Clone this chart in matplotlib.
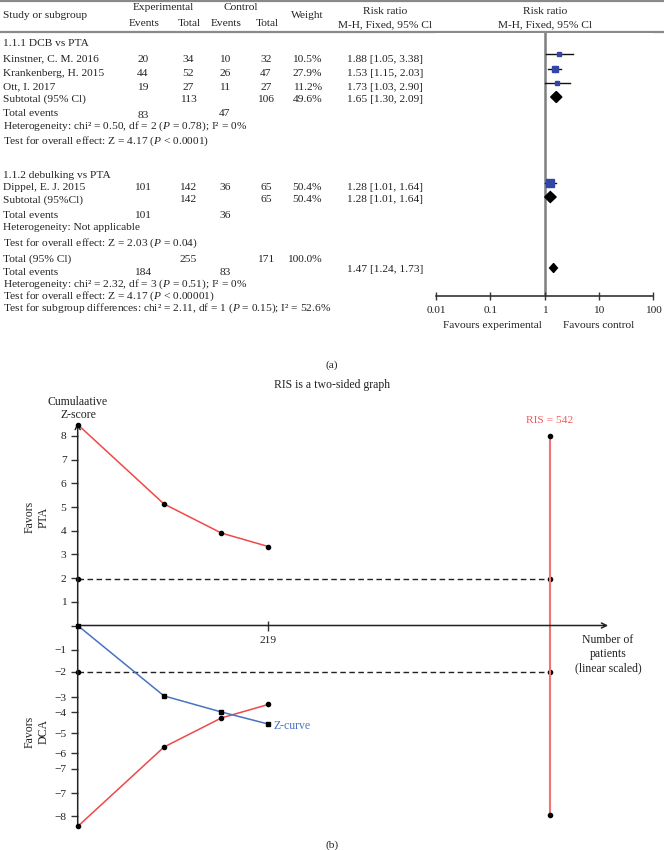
import numpy as np
import matplotlib.pyplot as plt
from matplotlib.patches import Polygon

plt.rcParams['font.family'] = ['Liberation Serif', 'DejaVu Serif']
plt.rcParams['font.size'] = 8.2
plt.rcParams['mathtext.fontset'] = 'custom'
plt.rcParams['mathtext.rm'] = 'Liberation Serif'
plt.rcParams['mathtext.it'] = 'Liberation Serif:italic'

TXT = '#222222'

# ---------------- (a) forest plot data ----------------
studies = ['Kinstner, C. M. 2016', 'Krankenberg, H. 2015', 'Ott, I. 2017', 'Dippel, E. J. 2015']
exp_events = [20, 44, 19, 101]
exp_total = [34, 52, 27, 142]
ctl_events = [10, 26, 11, 36]
ctl_total = [32, 47, 27, 65]
weights = [10.5, 27.9, 11.2, 50.4]
rr = [1.88, 1.53, 1.73, 1.28]
rr_lo = [1.05, 1.15, 1.03, 1.01]
rr_hi = [3.38, 2.03, 2.90, 1.64]

groups = ['1.1.1 DCB vs PTA', '1.1.2 debulking vs PTA']
group_studies = [[0, 1, 2], [3]]
sub_labels = ['Subtotal (95% Cl)', 'Subtotal (95%Cl)']
sub_exp_total = [113, 142]
sub_ctl_total = [106, 65]
sub_weight = [49.6, 50.4]
sub_exp_events = [83, 101]
sub_ctl_events = [47, 36]
sub_rr = [1.65, 1.28]
sub_lo = [1.30, 1.01]
sub_hi = [2.09, 1.64]
sub_het = ['Heterogeneity: chi\u00b2 = 0.50, df = 2 ($P$ = 0.78); I\u00b2 = 0%',
           'Heterogeneity: Not applicable']
sub_test = ['Test for overall effect: Z = 4.17 ($P$ < 0.0001)',
            'Test for overall effect: Z = 2.03 ($P$ = 0.04)']

tot_exp_total, tot_ctl_total, tot_weight = 255, 171, 100.0
tot_exp_events, tot_ctl_events = 184, 83
tot_rr, tot_lo, tot_hi = 1.47, 1.24, 1.73
tot_notes = ['Heterogeneity: chi\u00b2 = 2.32, df = 3 ($P$ = 0.51); I\u00b2 = 0%',
             'Test for overall effect: Z = 4.17 ($P$ < 0.00001)',
             'Test for subgroup differences: chi\u00b2 = 2.11, df = 1 ($P$ = 0.15); I\u00b2 = 52.6%']

# ---------------- (b) trial sequential analysis data ----------------
patients = [0, 99, 165, 219]
z_curve = [0, -2.97, -3.65, -4.16]
upper_bound = [8.48, 5.13, 3.90, 3.33]
lower_bound = [-8.48, -5.13, -3.90, -3.33]
ris = 542
z_crit = 1.96
ris_span = 8
ytick_pos = [8, 7, 6, 5, 4, 3, 2, 1, 0, -1.03, -1.96, -3.02, -3.65, -4.54, -5.38, -6.05, -7.07, -8.04]
ytick_lab = ['8', '7', '6', '5', '4', '3', '2', '1', '', '\u22121', '\u22122', '\u22123', '\u22124',
             '\u22125', '\u22126', '\u22127', '\u22127', '\u22128']

W, H = 664, 850
fig = plt.figure(figsize=(W / 100, H / 100), dpi=100)


def ftext(px, py, s, **kw):
    kw.setdefault('color', TXT)
    fig.text(px / W, 1 - py / H, s, **kw)


# ---- table axes (pixel coordinates) ----
ax_t = fig.add_axes([0, 1 - 350 / H, 1, 350 / H])
ax_t.set_xlim(0, W)
ax_t.set_ylim(350, 0)
ax_t.axis('off')
ax_t.hlines([1, 32], 0, W, color='#8a8a8a', lw=1.6)

cx = [143, 188, 225, 266]   # event/total columns
wx = 322                    # weight right edge
cix = 385                   # CI text column


def t(x, y, s, ha='left', **kw):
    ax_t.text(x, y, s, ha=ha, va='center', color=TXT, **kw)


t(3, 16, 'Study or subgroup')
t(163, 8, 'Experimental', ha='center')
t(241, 8, 'Control', ha='center')
t(144, 23, 'Events', ha='center')
t(189, 23, 'Total', ha='center')
t(226, 23, 'Events', ha='center')
t(267, 23, 'Total', ha='center')
t(307, 16, 'Weight', ha='center')
for xc in [385, 545]:
    t(xc, 12, 'Risk ratio', ha='center')
    t(xc, 25, 'M-H, Fixed, 95% Cl', ha='center')

# forest axes, log scale, y in pixel rows
ax_f = fig.add_axes([436 / W, 1 - 296 / H, 217 / W, (296 - 33) / H])
ax_f.set_xscale('log')
ax_f.set_xlim(0.01, 100)
ax_f.set_ylim(296, 33)
for s in ['top', 'left', 'right']:
    ax_f.spines[s].set_visible(False)
ax_f.spines['bottom'].set_color('#333333')
ax_f.spines['bottom'].set_linewidth(1.2)
ax_f.axvline(1, color='#7f7f7f', lw=1.8, zorder=1)
ax_f.set_yticks([])
ax_f.set_xticks([0.01, 0.1, 1, 10, 100])
ax_f.set_xticklabels(['0.01', '0.1', '1', '10', '100'])
ax_f.minorticks_off()
ax_f.tick_params(axis='x', direction='inout', length=6, width=1, pad=4, colors='#333333', labelcolor=TXT)

text_rows = [[59, 73, 87], [188]]
mark_rows = [[54, 69, 83], [183]]
group_y = [43, 175]
sub_y = [(99, 97, 100), (200, 197, 199)]

for g, name in enumerate(groups):
    t(3, group_y[g], name)
    for k, i in enumerate(group_studies[g]):
        ty = text_rows[g][k]
        my = mark_rows[g][k]
        t(3, ty, studies[i])
        for x, v in zip(cx, [exp_events[i], exp_total[i], ctl_events[i], ctl_total[i]]):
            t(x, ty, str(v), ha='center')
        t(wx, ty, f'{weights[i]:.1f}%', ha='right')
        t(cix, ty, f'{rr[i]:.2f} [{rr_lo[i]:.2f}, {rr_hi[i]:.2f}]', ha='center')
        ax_f.plot([rr_lo[i], rr_hi[i]], [my, my], color='#111111', lw=1)
        ax_f.plot(rr[i], my, marker='s', ms=0.82 * np.sqrt(weights[i]), color='#3346a6',
                  mec='#3346a6', zorder=3)
    sy, dy, cy = sub_y[g]
    t(3, sy, sub_labels[g])
    t(cx[1], sy, str(sub_exp_total[g]), ha='center')
    t(cx[3], sy, str(sub_ctl_total[g]), ha='center')
    t(wx, sy, f'{sub_weight[g]:.1f}%', ha='right')
    t(cix, cy, f'{sub_rr[g]:.2f} [{sub_lo[g]:.2f}, {sub_hi[g]:.2f}]', ha='center')
    ax_f.add_patch(Polygon([(sub_lo[g], dy), (sub_rr[g], dy - 5.5), (sub_hi[g], dy),
                            (sub_rr[g], dy + 5.5)], closed=True, color='black', zorder=3))
    ey = sy + 16
    t(3, ey - 1, 'Total events')
    t(cx[0], ey, str(sub_exp_events[g]), ha='center')
    t(cx[2], ey - 1, str(sub_ctl_events[g]), ha='center')
    t(3, ey + 11, sub_het[g])
    t(3, ey + 26 if g == 0 else ey + 27, sub_test[g])

# overall
t(3, 259, 'Total (95% Cl)')
t(cx[1], 259, str(tot_exp_total), ha='center')
t(cx[3], 259, str(tot_ctl_total), ha='center')
t(wx, 259, f'{tot_weight:.1f}%', ha='right')
t(cix, 270, f'{tot_rr:.2f} [{tot_lo:.2f}, {tot_hi:.2f}]', ha='center')
ax_f.add_patch(Polygon([(tot_lo, 268), (tot_rr, 263.5), (tot_hi, 268), (tot_rr, 272.5)],
                       closed=True, color='black', zorder=3))
t(3, 272.5, 'Total events')
t(cx[0], 272.5, str(tot_exp_events), ha='center')
t(cx[2], 272.5, str(tot_ctl_events), ha='center')
for k, note in enumerate(tot_notes):
    t(3, 284.5 + k * 12, note)

ftext(492, 325, 'Favours experimental', ha='center', va='center')
ftext(599, 325, 'Favours control', ha='center', va='center')
ftext(332, 365, '(a)', ha='center', va='center')

# ---------------- (b) ----------------
ftext(332, 385, 'RIS is a two-sided graph', ha='center', va='center', fontsize=8.5)

ax_b = fig.add_axes([77.7 / W, (H - 832) / H, (620 - 77.7) / W, (832 - 420) / H])
ax_b.set_xlim(0, (620 - 77.7) / 0.871)
ax_b.set_ylim(-(832 - 625.5) / 23.7, (625.5 - 420) / 23.7)
for s in ['top', 'right', 'left', 'bottom']:
    ax_b.spines[s].set_visible(False)
ax_b.spines['bottom'].set_position(('data', 0))
ax_b.set_xticks([patients[-1]])
ax_b.set_xticklabels([str(patients[-1])])
ax_b.tick_params(axis='x', direction='inout', length=7, width=1, pad=4, colors='#333333', labelcolor=TXT)
ax_b.set_yticks(ytick_pos)
ax_b.set_yticklabels(ytick_lab)
ax_b.tick_params(axis='y', direction='out', length=5, width=1, pad=3, colors='#333333', labelcolor=TXT)

arrow = dict(arrowstyle='->', lw=1.1, color='#222222', shrinkA=0, shrinkB=0, mutation_scale=9)
ax_b.annotate('', xy=(0, 8.55), xytext=(0, -8.45), arrowprops=arrow, annotation_clip=False)
ax_b.annotate('', xy=(609, 0), xytext=(0, 0), arrowprops=arrow, annotation_clip=False)

# boundaries at +-1.96
for zc in [z_crit, -z_crit]:
    ax_b.plot([0, ris], [zc, zc], color='#222222', lw=1, ls=(0, (4, 2.5)),
              marker='o', ms=3, mfc='black', mec='black', clip_on=False)

# RIS line
ax_b.plot([ris, ris], [-ris_span, ris_span], color='#f07575', lw=1.5, zorder=2,
          marker='o', ms=3, mfc='black', mec='black', clip_on=False)
ax_b.text(ris, ris_span + 0.45, f'RIS = {ris}', color='#f05a5a', ha='center', va='bottom')

# monitoring boundaries
for b in [upper_bound, lower_bound]:
    ax_b.plot(patients, b, color='#f04848', lw=1.1, marker='o', ms=3,
              mfc='black', mec='black', clip_on=False, zorder=3)

# Z-curve
ax_b.plot(patients, z_curve, color='#4a72c0', lw=1.1, marker='s', ms=3,
          mfc='black', mec='black', clip_on=False, zorder=4)
ax_b.text(patients[-1] + 6, z_curve[-1] - 0.1, 'Z-curve', color='#4a72c0', ha='left', va='center',
          fontsize=8.5)

ftext(78, 402, 'Cumulaative', ha='center', va='center', fontsize=8.5)
ftext(78, 415, 'Z-score', ha='center', va='center', fontsize=8.5)
ftext(37, 517, 'Favors\nPTA', ha='center', va='center', rotation=90, linespacing=1.2, fontsize=8.5)
ftext(37, 732, 'Favors\nDCA', ha='center', va='center', rotation=90, linespacing=1.2, fontsize=8.5)
ftext(608, 654, 'Number of\npatients\n(linear scaled)', ha='center', va='center', linespacing=1.2,
      fontsize=8.5)
ftext(332, 845, '(b)', ha='center', va='center')

fig.savefig('out.png', dpi=100)
